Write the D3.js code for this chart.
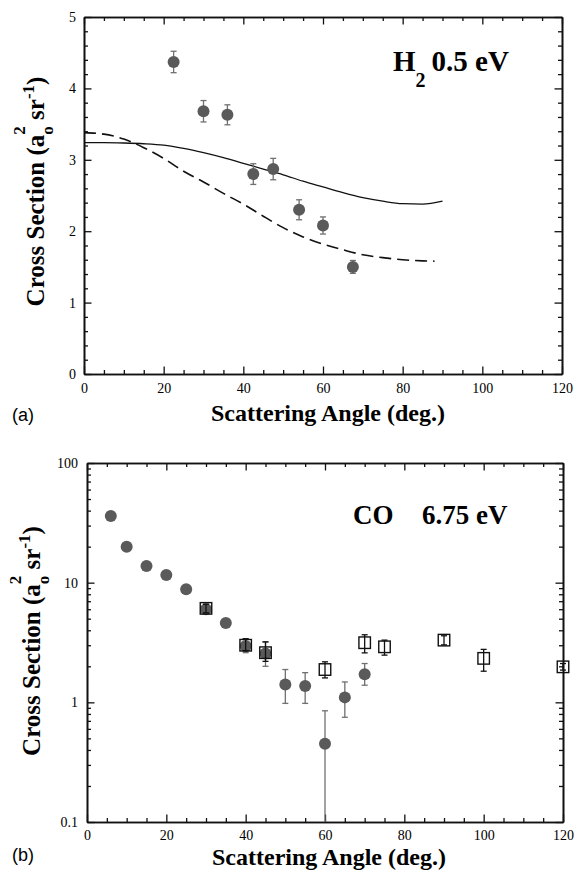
<!DOCTYPE html>
<html>
<head>
<meta charset="utf-8">
<script src="https://cdn.jsdelivr.net/npm/d3@7"></script>
<style>
  body { margin: 0; background: #fff; }
  svg { display: block; }
  text { font-family: "Liberation Serif", "Times New Roman", serif; fill: #000; }
</style>
</head>
<body>
<svg id="chart" width="577" height="873"></svg>
<script>
// ---- Panel (a): H2, 0.5 eV ----
const h2Angle = [22.5, 30, 36, 42.5, 47.5, 54, 60, 67.5];
const h2Dcs   = [4.37, 3.68, 3.63, 2.80, 2.87, 2.30, 2.08, 1.50];
const h2Err   = [0.15, 0.15, 0.14, 0.145, 0.15, 0.14, 0.12, 0.09];

const solidAngle = [0, 5, 10, 15, 20, 25, 30, 35, 40, 45, 50, 55, 60, 65, 70, 75, 80, 85, 90];
const solidDcs   = [3.24, 3.24, 3.235, 3.225, 3.205, 3.16, 3.10, 3.03, 2.95, 2.87, 2.79, 2.70, 2.62, 2.54, 2.47, 2.42, 2.385, 2.38, 2.42];

const dashAngle = [0, 5, 10, 15, 20, 25, 30, 35, 40, 45, 50, 55, 60, 65, 70, 75, 80, 85, 88];
const dashDcs   = [3.38, 3.36, 3.29, 3.17, 3.02, 2.84, 2.69, 2.53, 2.38, 2.21, 2.05, 1.92, 1.82, 1.74, 1.67, 1.63, 1.60, 1.585, 1.58];

// ---- Panel (b): CO, 6.75 eV ----
const coCircAngle = [6, 10, 15, 20, 25, 30, 35, 40, 45, 50, 55, 60, 65, 70];
const coCircDcs   = [36, 20.0, 13.8, 11.6, 8.8, 6.0, 4.6, 2.95, 2.56, 1.41, 1.37, 0.45, 1.10, 1.72];
const coCircLow   = [34.5, 19.0, 13.2, 11.1, 8.4, 5.5, 4.4, 2.6, 2.0, 0.98, 0.98, 0.1, 0.75, 1.39];
const coCircHigh  = [37.5, 21.0, 14.4, 12.1, 9.2, 6.6, 4.8, 3.4, 3.2, 1.88, 1.77, 0.85, 1.48, 2.11];

const coSqAngle = [30, 40, 45, 60, 70, 75, 90, 100, 120];
const coSqDcs   = [6.1, 3.0, 2.6, 1.88, 3.15, 2.91, 3.31, 2.33, 1.98];
const coSqLow   = [5.6, 2.7, 2.2, 1.60, 2.59, 2.48, 3.02, 1.82, 1.86];
const coSqHigh  = [6.6, 3.4, 3.2, 2.18, 3.67, 3.31, 3.60, 2.77, 2.11];

const xTicks  = [0, 20, 40, 60, 80, 100, 120];
const yTicksA = [0, 1, 2, 3, 4, 5];
const yTicksB = [0.1, 1, 10, 100];

const svg = d3.select("#chart");
const serif = '"Liberation Serif","Times New Roman",serif';
const markFill = "#5a5a5a";
const barGray = "#707070";
const tickFont = 14;

// scales
const xA = d3.scaleLinear().domain([0, 120]).range([84, 562]);
const yA = d3.scaleLinear().domain([0, 5]).range([374, 17]);
const xB = d3.scaleLinear().domain([0, 120]).range([87, 563]);
const yB = d3.scaleLog().domain([0.1, 100]).range([822, 463]);

const xMinor = d3.range(0, 121, 5).filter(d => d % 20 !== 0);
const yMinorA = d3.range(0, 5.001, 0.2).map(d => +d.toFixed(1)).filter(d => Math.abs(d - Math.round(d)) > 1e-6);
const yMinorB = [];
[0.1, 1, 10].forEach(dec => { for (let m = 2; m <= 9; m++) yMinorB.push(+(dec * m).toPrecision(3)); });

function styleAxis(g) {
  g.attr("font-family", serif).attr("font-size", tickFont);
  g.select(".domain").attr("stroke", "#111").attr("stroke-width", 1.6);
  g.selectAll(".tick line").attr("stroke", "#111").attr("stroke-width", 1.3);
  g.selectAll(".tick text")
    .style("font-family", serif).style("font-size", tickFont + "px")
    .attr("fill", "#000");
}

function drawFrame(x, y, xMaj, xMin, yMaj, yMin, yFmt, padX, padY) {
  const [x0, x1] = x.range();
  const [y0, y1] = y.range();
  const g = svg.append("g");
  const majLen = 7.5, minLen = 4;
  // bottom
  g.append("g").attr("transform", `translate(0,${y0})`)
    .call(d3.axisBottom(x).tickValues(xMin).tickSize(-minLen).tickSizeOuter(0).tickFormat(""))
    .call(styleAxis);
  g.append("g").attr("transform", `translate(0,${y0})`)
    .call(d3.axisBottom(x).tickValues(xMaj).tickSize(-majLen).tickSizeOuter(0).tickPadding(padX).tickFormat(d3.format("d")))
    .call(styleAxis);
  // top
  g.append("g").attr("transform", `translate(0,${y1})`)
    .call(d3.axisTop(x).tickValues(xMin).tickSize(-minLen).tickSizeOuter(0).tickFormat(""))
    .call(styleAxis);
  g.append("g").attr("transform", `translate(0,${y1})`)
    .call(d3.axisTop(x).tickValues(xMaj).tickSize(-majLen).tickSizeOuter(0).tickFormat(""))
    .call(styleAxis);
  // left
  g.append("g").attr("transform", `translate(${x0},0)`)
    .call(d3.axisLeft(y).tickValues(yMin).tickSize(-minLen).tickSizeOuter(0).tickFormat(""))
    .call(styleAxis);
  g.append("g").attr("transform", `translate(${x0},0)`)
    .call(d3.axisLeft(y).tickValues(yMaj).tickSize(-majLen).tickSizeOuter(0).tickPadding(padY).tickFormat(yFmt))
    .call(styleAxis);
  // right
  g.append("g").attr("transform", `translate(${x1},0)`)
    .call(d3.axisRight(y).tickValues(yMin).tickSize(-minLen).tickSizeOuter(0).tickFormat(""))
    .call(styleAxis);
  g.append("g").attr("transform", `translate(${x1},0)`)
    .call(d3.axisRight(y).tickValues(yMaj).tickSize(-majLen).tickSizeOuter(0).tickFormat(""))
    .call(styleAxis);
}

function errorBars(g, xs, lows, highs, x, y, color, domainMin) {
  const cap = 3;
  xs.forEach((a, i) => {
    const px = x(a);
    const lo = Math.max(lows[i], domainMin);
    g.append("line").attr("x1", px).attr("x2", px)
      .attr("y1", y(lo)).attr("y2", y(highs[i]))
      .attr("stroke", color).attr("stroke-width", 1.3);
    g.append("line").attr("x1", px - cap).attr("x2", px + cap)
      .attr("y1", y(highs[i])).attr("y2", y(highs[i]))
      .attr("stroke", color).attr("stroke-width", 1.3);
    if (lows[i] > domainMin) {
      g.append("line").attr("x1", px - cap).attr("x2", px + cap)
        .attr("y1", y(lows[i])).attr("y2", y(lows[i]))
        .attr("stroke", color).attr("stroke-width", 1.3);
    }
  });
}

function yTitle(cx, cy, size) {
  const t = svg.append("text")
    .attr("transform", `translate(${cx},${cy}) rotate(-90)`)
    .attr("text-anchor", "middle")
    .style("font-weight", "bold").style("font-size", size + "px");
  t.append("tspan").text("Cross Section (a");
  t.append("tspan").attr("dy", 9).style("font-size", "17px").text("o");
  t.append("tspan").attr("dx", -8.5).attr("dy", -28).style("font-size", "17px").text("2");
  t.append("tspan").attr("dy", 19).text(" sr");
  t.append("tspan").attr("dy", -10).style("font-size", "17px").text("-1");
  t.append("tspan").attr("dy", 10).text(")");
}

function xTitle(cx, baseline) {
  svg.append("text").attr("x", cx).attr("y", baseline)
    .attr("text-anchor", "middle")
    .style("font-weight", "bold").style("font-size", "24px")
    .text("Scattering Angle (deg.)");
}

function panelTag(label, x, baseline) {
  svg.append("text").attr("x", x).attr("y", baseline)
    .style("font-family", '"Liberation Sans", Arial, sans-serif')
    .style("font-size", "18px").text(label);
}

// ================= Panel (a) =================
drawFrame(xA, yA, xTicks, xMinor, yTicksA, yMinorA, d3.format("d"), 9, 8);

const gA = svg.append("g");
gA.append("path")
  .datum(solidAngle.map((a, i) => [a, solidDcs[i]]))
  .attr("d", d3.line().x(d => xA(d[0])).y(d => yA(d[1])).curve(d3.curveMonotoneX))
  .attr("fill", "none").attr("stroke", "#111").attr("stroke-width", 1.3);
gA.append("path")
  .datum(dashAngle.map((a, i) => [a, dashDcs[i]]))
  .attr("d", d3.line().x(d => xA(d[0])).y(d => yA(d[1])).curve(d3.curveMonotoneX))
  .attr("fill", "none").attr("stroke", "#111").attr("stroke-width", 1.6)
  .attr("stroke-dasharray", "12,6");

errorBars(gA, h2Angle,
  h2Dcs.map((v, i) => v - h2Err[i]), h2Dcs.map((v, i) => v + h2Err[i]),
  xA, yA, barGray, -Infinity);
gA.selectAll("circle.h2").data(h2Angle).join("circle")
  .attr("cx", d => xA(d)).attr("cy", (d, i) => yA(h2Dcs[i])).attr("r", 6)
  .attr("fill", markFill);

const tA = svg.append("text").attr("x", 393).attr("y", 71)
  .style("font-weight", "bold").style("font-size", "29px");
tA.append("tspan").text("H");
tA.append("tspan").attr("dy", 16).style("font-size", "20px").text("2");
tA.append("tspan").attr("dy", -16).attr("dx", 6).text("0.5 eV");

xTitle(328, 421);
yTitle(44, 191.5, 25);
panelTag("(a)", 12, 421);

// ================= Panel (b) =================
drawFrame(xB, yB, xTicks, xMinor, yTicksB, yMinorB, d => String(d), 8, 9);

svg.append("clipPath").attr("id", "clipB").append("rect")
  .attr("x", 87).attr("y", 463).attr("width", 476).attr("height", 359);
const gB = svg.append("g").attr("clip-path", "url(#clipB)");

errorBars(gB, coCircAngle, coCircLow, coCircHigh, xB, yB, barGray, 0.1);
gB.selectAll("circle.co").data(coCircAngle).join("circle")
  .attr("cx", d => xB(d)).attr("cy", (d, i) => yB(coCircDcs[i])).attr("r", 6)
  .attr("fill", markFill);

const sq = 11.5;
const gS = svg.append("g");
gS.selectAll("rect.co").data(coSqAngle).join("rect")
  .attr("x", d => xB(d) - sq / 2).attr("y", (d, i) => yB(coSqDcs[i]) - sq / 2)
  .attr("width", sq).attr("height", sq)
  .attr("fill", "none").attr("stroke", "#111").attr("stroke-width", 1.4);
errorBars(gS, coSqAngle, coSqLow, coSqHigh, xB, yB, "#111", 0.1);

const tB = svg.append("text").attr("y", 524)
  .style("font-weight", "bold").style("font-size", "27px");
tB.append("tspan").attr("x", 353).text("CO");
tB.append("tspan").attr("x", 422).text("6.75 eV");

xTitle(329, 865);
yTitle(40, 641, 25);
panelTag("(b)", 12, 861);
</script>
</body>
</html>
